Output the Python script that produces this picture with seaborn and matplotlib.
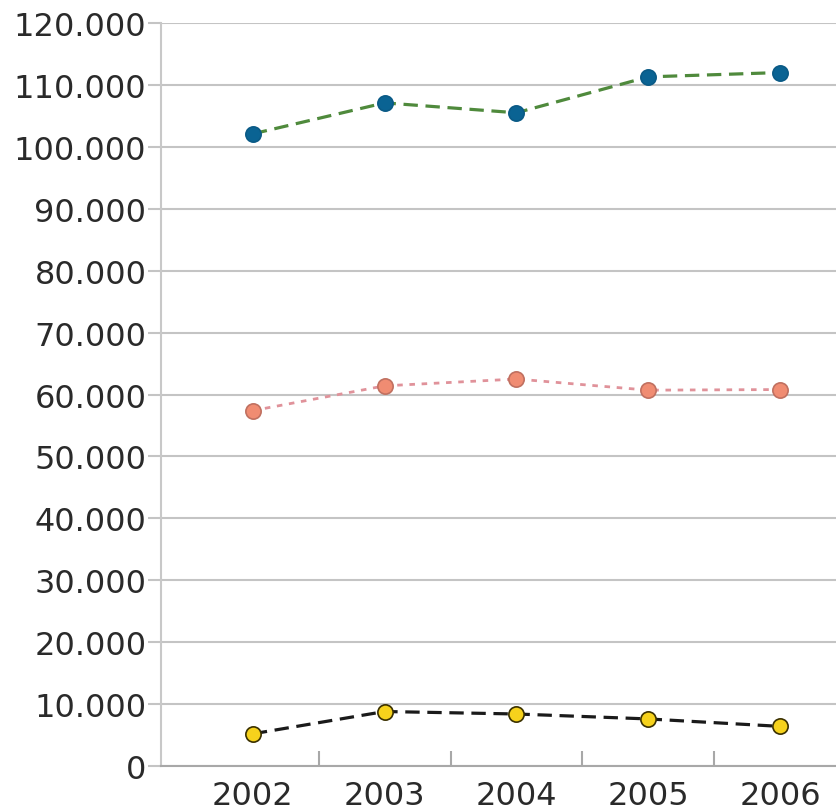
import matplotlib
matplotlib.use("Agg")
import matplotlib.pyplot as plt
import seaborn as sns
import pandas as pd
from matplotlib.ticker import FuncFormatter, MultipleLocator, FixedLocator

years = [2002, 2003, 2004, 2005, 2006]
top_series = [102100, 107100, 105500, 111300, 112000]
mid_series = [57400, 61400, 62500, 60700, 60800]
low_series = [5200, 8800, 8400, 7600, 6400]

sns.set_theme(style="white")
plt.rcParams['font.family'] = ['DejaVu Sans']

fig = plt.figure(figsize=(8.36, 8.12), dpi=100)
ax = fig.add_axes([161/836, 1 - 767/812, 1 - 161/836, (767 - 24)/812])

styles = [
    (top_series, "#4f8a3c", (4.5, 2.4), "#0a6393", "#0a5a86", 2.3),
    (mid_series, "#e0929a", (2, 2.4), "#f08c72", "#c07060", 2.0),
    (low_series, "#1a1a1a", (4.5, 2.4), "#f6d21c", "#3a3000", 2.3),
]
for vals, lc, dash, mfc, mec, lw in styles:
    df = pd.DataFrame({"year": years, "value": vals})
    sns.lineplot(data=df, x="year", y="value", ax=ax, color=lc, lw=lw,
                 dashes=False, linestyle=(0, dash), marker="o", markersize=11,
                 markerfacecolor=mfc, markeredgecolor=mec, markeredgewidth=1.2,
                 zorder=3)

ax.set_ylim(0, 120000)
ax.set_xlim(2002 - 92/132, 2006 + 56/132)
ax.yaxis.set_major_locator(MultipleLocator(10000))
ax.yaxis.set_major_formatter(FuncFormatter(lambda v, p: f"{int(v):,}".replace(",", ".")))
ax.xaxis.set_major_locator(FixedLocator(years))
ax.xaxis.set_minor_locator(FixedLocator([2002.5, 2003.5, 2004.5, 2005.5]))
ax.set_xticklabels([str(y) for y in years])
ax.set_xlabel("")
ax.set_ylabel("")

ax.grid(axis="y", color="#c4c4c4", lw=1.5)
ax.set_axisbelow(True)
for s in ["top", "right"]:
    ax.spines[s].set_visible(False)
ax.spines["left"].set_color("#c8c8c8")
ax.spines["left"].set_linewidth(1.5)
ax.spines["bottom"].set_color("#a8a8a8")
ax.spines["bottom"].set_linewidth(1.5)

ax.tick_params(axis="y", which="major", length=9.5, width=1.5, color="#c4c4c4",
               labelsize=23, labelcolor="#2a2a2a", pad=1, left=True)
ax.tick_params(axis="x", which="major", length=0, labelsize=23,
               labelcolor="#2a2a2a", pad=10, bottom=True)
ax.tick_params(axis="x", which="minor", length=11, width=1.5, direction="in",
               color="#a8a8a8", bottom=True)

fig.savefig("out.png", dpi=100)
